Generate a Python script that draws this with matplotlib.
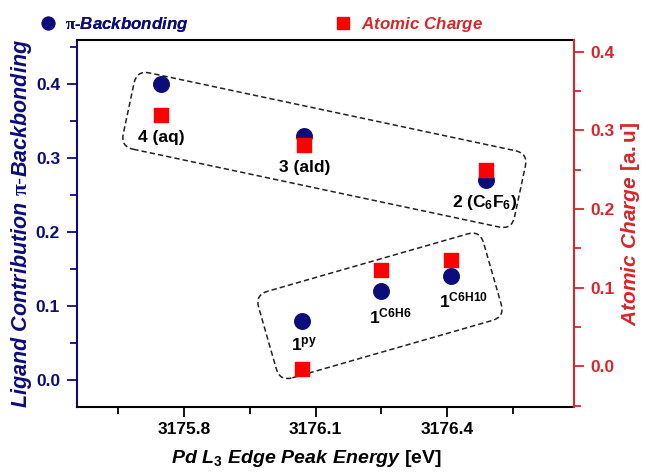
import matplotlib
matplotlib.use('Agg')
import matplotlib.pyplot as plt
import matplotlib.transforms as mtransforms
from matplotlib.patches import FancyBboxPatch
from matplotlib.lines import Line2D
from matplotlib.ticker import MultipleLocator, FormatStrFormatter

# values
energy = [3175.747, 3176.074, 3176.49, 3176.07, 3176.25, 3176.41]
backbonding = [0.40, 0.33, 0.27, 0.08, 0.12, 0.14]
charge = [0.32, 0.281, 0.249, -0.004, 0.122, 0.135]
labels = ['4 (aq)', '3 (ald)', r'2 (C$_\mathrm{6}$F$_\mathrm{6}$)',
          r'1$^\mathrm{py}$', r'1$^\mathrm{C6H6}$', r'1$^\mathrm{C6H10}$']
label_offsets = [(0, -53), (1, -32), (-2, -22), (2, -24), (9, -25), (12, -24)]

# dashed group boxes: centre (energy, backbonding), width, height (px), angle
groups = [((3176.12, 0.311), 400, 78, -12),
          ((3176.247, 0.100), 234, 90, 16)]

navy = '#0c0c7a'
red = '#ff0000'
red_axis = '#d8262a'

plt.rcParams['font.family'] = 'Liberation Sans'
plt.rcParams['font.weight'] = 'bold'
plt.rcParams['mathtext.fontset'] = 'custom'
plt.rcParams['mathtext.rm'] = 'Liberation Sans:bold'
plt.rcParams['mathtext.bf'] = 'Liberation Sans:bold'
plt.rcParams['mathtext.it'] = 'Liberation Sans:bold:italic'
plt.rcParams['mathtext.sf'] = 'Liberation Serif'
plt.rcParams['mathtext.tt'] = 'Liberation Sans'

fig = plt.figure(figsize=(6.45, 4.75), dpi=100)
ax = fig.add_axes([0.119, 0.143, 0.771, 0.773])
ax2 = ax.twinx()

ax.scatter(energy, backbonding, s=125, marker='o', color=navy, zorder=3)
ax2.scatter(energy, charge, s=100, marker='s', color=red, zorder=3)

ax.set_xlim(3175.555, 3176.69)
ax.set_ylim(-0.037, 0.46)
ax2.set_ylim(-0.052, 0.415)

for (cx, cy), w, h, ang in groups:
    tr = mtransforms.Affine2D().rotate_deg(ang) + mtransforms.ScaledTranslation(cx, cy, ax.transData)
    box = FancyBboxPatch((-w / 2, -h / 2), w, h, boxstyle='round,pad=0,rounding_size=13',
                         fill=False, ls=(0, (3.5, 2)), lw=1.1, ec='#222222', transform=tr)
    ax.add_patch(box)

for x, y, lab, off in zip(energy, backbonding, labels, label_offsets):
    ax.annotate(lab, (x, y), xytext=(off[0] * 0.72, off[1] * 0.72), textcoords='offset points',
                ha='center', va='center', fontsize=12.5, color='black')

ax.xaxis.set_major_locator(MultipleLocator(0.3))
ax.xaxis.set_minor_locator(MultipleLocator(0.15))
ax.xaxis.set_major_formatter(FormatStrFormatter('%.1f'))
for a in (ax, ax2):
    a.yaxis.set_major_locator(MultipleLocator(0.1))
    a.yaxis.set_minor_locator(MultipleLocator(0.05))
    a.yaxis.set_major_formatter(FormatStrFormatter('%.1f'))

ax.tick_params(axis='both', which='major', direction='out', length=7, width=1.3, labelsize=12.5, pad=5)
ax.tick_params(axis='both', which='minor', direction='out', length=5, width=1.3)
ax.tick_params(axis='y', which='both', colors=navy)
ax.tick_params(axis='x', which='major', pad=4)
ax2.tick_params(axis='y', which='major', direction='out', length=7, width=1.3, labelsize=12.5, pad=5, colors=red_axis)
ax2.tick_params(axis='y', which='minor', direction='out', length=5, width=1.3, colors=red_axis)

for s in ax.spines.values():
    s.set_linewidth(1.5)
ax.spines['left'].set_color(navy)
ax.spines['right'].set_visible(False)
for k in ('left', 'top', 'bottom'):
    ax2.spines[k].set_visible(False)
ax2.spines['right'].set_color(red_axis)
ax2.spines['right'].set_linewidth(1.5)

ax.set_xlabel(r'$Pd\ L_\mathrm{3}\ Edge\ Peak\ Energy\ \mathrm{[eV]}$', fontsize=14)
ax.xaxis.set_label_coords(0.461, -0.112)
ax.set_ylabel(r'$Ligand\ Contribution\ \mathsf{\pi}$-$Backbonding$', fontsize=15.5, color=navy, labelpad=1)
ax2.set_ylabel(r'$Atomic\ Charge\ \mathtt{[a.u]}$', fontsize=15, color=red_axis, labelpad=3)

h1 = Line2D([], [], ls='none', marker='o', ms=9, color=navy)
h2 = Line2D([], [], ls='none', marker='s', ms=8, color=red)
leg1 = ax.legend([h1], [r'$\mathsf{\pi}$-$Backbonding$'], loc='center left',
                 bbox_to_anchor=(0.061, 0.949), bbox_transform=fig.transFigure,
                 frameon=False, fontsize=12.2, labelcolor=navy, handlelength=1,
                 handletextpad=0.5, borderpad=0, borderaxespad=0)
ax.add_artist(leg1)
ax2.legend([h2], [r'$Atomic\ Charge$'], loc='center left',
           bbox_to_anchor=(0.519, 0.949), bbox_transform=fig.transFigure,
           frameon=False, fontsize=12.2, labelcolor=red_axis, handlelength=1,
           handletextpad=0.55, borderpad=0, borderaxespad=0)

fig.savefig('out.png', dpi=100)
